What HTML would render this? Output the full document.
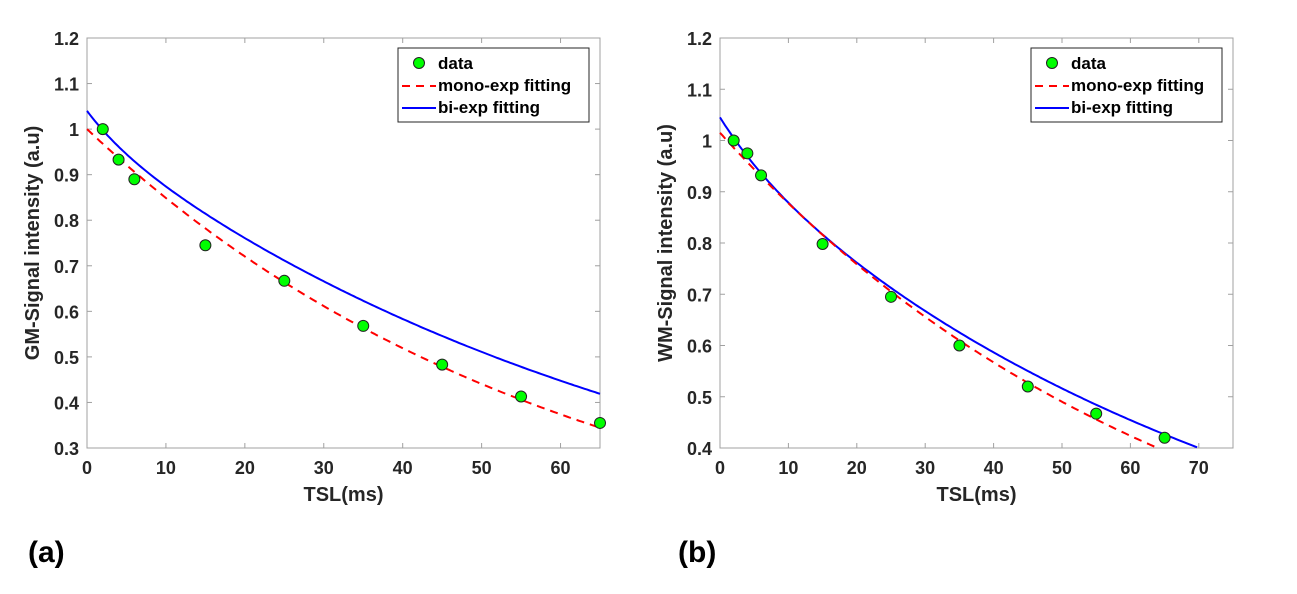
<!DOCTYPE html>
<html><head><meta charset="utf-8"><style>
body{margin:0;background:#fff}
svg{display:block;font-family:"Liberation Sans",Arial,sans-serif}
</style></head><body>
<svg id="s" width="1297" height="594"></svg>
<script>
// Panel (a) data
const aTSL=[2,4,6,15,25,35,45,55,65];
const aSignal=[1.0,0.933,0.89,0.745,0.667,0.568,0.483,0.413,0.355];
const aMonoParams=[1.0,61];          // amplitude, T
const aBiParams=[0.05,5,0.99,75.6];  // a1,T1,a2,T2
const aXTicks=[0,10,20,30,40,50,60];
const aYTicks=[0.3,0.4,0.5,0.6,0.7,0.8,0.9,1,1.1,1.2];
// Panel (b) data
const bTSL=[2,4,6,15,25,35,45,55,65];
const bSignal=[1.0,0.975,0.932,0.798,0.695,0.6,0.52,0.467,0.42];
const bMonoParams=[1.015,68.7];
const bBiParams=[0.07,8,0.975,78.6];
const bXTicks=[0,10,20,30,40,50,60,70];
const bYTicks=[0.4,0.5,0.6,0.7,0.8,0.9,1,1.1,1.2];

const NS="http://www.w3.org/2000/svg";
const svg=document.getElementById('s');
function mk(tag,attrs,parent,text){const e=document.createElementNS(NS,tag);for(const k in attrs)e.setAttribute(k,attrs[k]);if(text!==undefined)e.textContent=text;(parent||svg).appendChild(e);return e;}

function panel(cfg){
  const {L,R,T,B,xmin,xmax,ymin,ymax,tsl,sig,mono,bi,xt,yt,ylabel,letter,letterX,curveEndMono,curveEndBi,name}=cfg;
  const g=mk('g',{});
  
  
  const X=v=>L+(v-xmin)/(xmax-xmin)*(R-L);
  const Y=v=>B-(v-ymin)/(ymax-ymin)*(B-T);
  const box=mk('rect',{x:L,y:T,width:R-L,height:B-T,fill:'none',stroke:'#a0a0a0','stroke-width':1},g);
  
  
  xt.forEach(v=>{
    mk('line',{x1:X(v),x2:X(v),y1:B,y2:B-5,stroke:'#a0a0a0'},g);
    mk('line',{x1:X(v),x2:X(v),y1:T,y2:T+5,stroke:'#a0a0a0'},g);
    const t=mk('text',{x:X(v),y:B+26,'text-anchor':'middle','font-size':18,'font-weight':'bold',fill:'#262626'},g,String(v));
    
    
  });
  yt.forEach(v=>{
    mk('line',{x1:L,x2:L+5,y1:Y(v),y2:Y(v),stroke:'#a0a0a0'},g);
    mk('line',{x1:R,x2:R-5,y1:Y(v),y2:Y(v),stroke:'#a0a0a0'},g);
    const t=mk('text',{x:L-8,y:Y(v)+7,'text-anchor':'end','font-size':18,'font-weight':'bold',fill:'#262626'},g,String(v));
    
    
  });
  const xl=mk('text',{x:(L+R)/2,y:B+53,'text-anchor':'middle','font-size':20,'font-weight':'bold',fill:'#262626'},g,'TSL(ms)');
  
  
  const yl=mk('text',{x:0,y:0,'text-anchor':'middle','font-size':20,'font-weight':'bold',fill:'#262626',transform:`translate(${L-48},${(T+B)/2}) rotate(-90)`},g,ylabel);
  
  
  let pm=[],pb=[];
  for(let i=0;i<=200;i++){
    const t=xmin+(curveEndMono-xmin)*i/200;
    const vm=mono[0]*Math.exp(-t/mono[1]);
    if(vm>=ymin) pm.push(X(t).toFixed(1)+','+Y(vm).toFixed(1));
    const t2=xmin+(curveEndBi-xmin)*i/200;
    const vb=bi[0]*Math.exp(-t2/bi[1])+bi[2]*Math.exp(-t2/bi[3]);
    if(vb>=ymin) pb.push(X(t2).toFixed(1)+','+Y(vb).toFixed(1));
  }
  const lb=mk('polyline',{points:pb.join(' '),fill:'none',stroke:'#0000ff','stroke-width':2},g);
  
  
  const lm=mk('polyline',{points:pm.join(' '),fill:'none',stroke:'#ff0000','stroke-width':2,'stroke-dasharray':'8,6'},g);
  
  
  tsl.forEach((t,i)=>{
    const c=mk('circle',{cx:X(t),cy:Y(sig[i]),r:5.5,fill:'#00ff00',stroke:'#222','stroke-width':1},g);
    
    
  });
  const lx=R-202,ly=T+10;
  const lg=mk('g',{},g);
  
  
  mk('rect',{x:lx,y:ly,width:191,height:74,fill:'#fff',stroke:'#262626','stroke-width':1},lg);
  mk('circle',{cx:lx+21,cy:ly+15,r:5.5,fill:'#00ff00',stroke:'#222'},lg);
  mk('line',{x1:lx+4,x2:lx+38,y1:ly+38,y2:ly+38,stroke:'#ff0000','stroke-width':2,'stroke-dasharray':'8,6'},lg);
  mk('line',{x1:lx+4,x2:lx+38,y1:ly+60,y2:ly+60,stroke:'#0000ff','stroke-width':2},lg);
  ['data','mono-exp fitting','bi-exp fitting'].forEach((s,i)=>{
    const t=mk('text',{x:lx+40,y:ly+21+i*22,'font-size':17,'font-weight':'bold',fill:'#000'},lg,s);
    
    
  });
  const pl=mk('text',{x:letterX,y:562,'font-size':30,'font-weight':'bold',fill:'#000'},g,letter);
  
  
}
panel({name:'panel-a',L:87,R:600,T:38,B:448,xmin:0,xmax:65,ymin:0.3,ymax:1.2,tsl:aTSL,sig:aSignal,mono:aMonoParams,bi:aBiParams,xt:aXTicks,yt:aYTicks,ylabel:'GM-Signal intensity (a.u)',letter:'(a)',letterX:28,curveEndMono:65,curveEndBi:65});
panel({name:'panel-b',L:720,R:1233,T:38,B:448,xmin:0,xmax:75,ymin:0.4,ymax:1.2,tsl:bTSL,sig:bSignal,mono:bMonoParams,bi:bBiParams,xt:bXTicks,yt:bYTicks,ylabel:'WM-Signal intensity (a.u)',letter:'(b)',letterX:678,curveEndMono:75,curveEndBi:75});
</script>
</body></html>
